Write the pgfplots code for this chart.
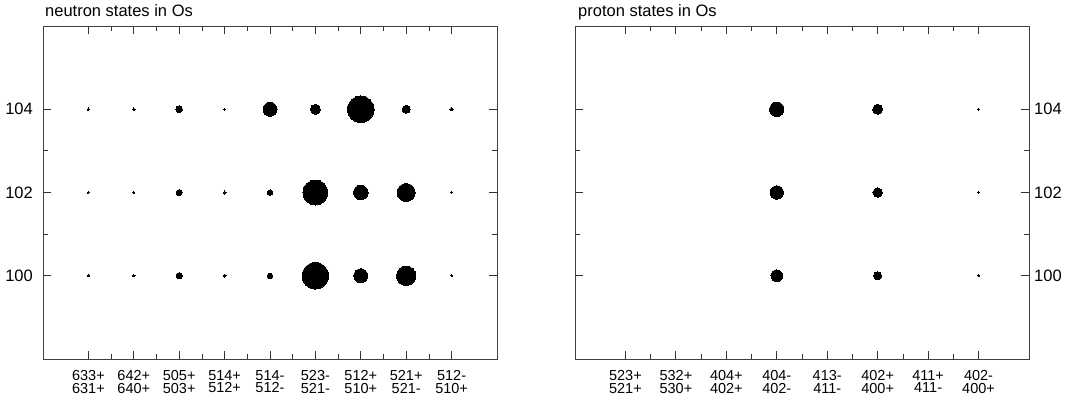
\documentclass[border=0pt]{standalone}
\usepackage{fontspec}
\setmainfont{Liberation Sans}
\usepackage{pgfplots}
\usepackage{pgfplotstable}
\pgfplotsset{compat=1.18}

% bubble radius r in pt (1pt = 1px of the 1067x408 picture)
\pgfplotstableread{
x y r
1 104 1.3
2 104 1.3
3 104 3.3
4 104 1.0
5 104 7.0
6 104 5.0
7 104 13.3
8 104 4.0
9 104 1.7
1 102 0.9
2 102 1.1
3 102 3.0
4 102 1.6
5 102 2.7
6 102 12.5
7 102 7.3
8 102 9.0
9 102 0.8
1 100 0.9
2 100 1.2
3 100 3.1
4 100 1.6
5 100 2.7
6 100 13.3
7 100 7.0
8 100 9.7
9 100 0.8
}\neutron

\pgfplotstableread{
x y r
4 104 7.2
6 104 5.0
8 104 0.9
4 102 6.7
6 102 4.7
8 102 0.8
4 100 5.8
6 100 4.0
8 100 0.8
}\proton

\pgfplotsset{
  osbox/.style={
    scale only axis, width=454pt, height=333pt,
    ymin=98, ymax=106, ytick={100,102,104}, minor y tick num=1,
    minor x tick num=1,
    tick align=inside, major tick length=8pt, minor tick length=5pt,
    axis line style={black!75, line width=1pt},
    tick style={black!80, line width=0.8pt},
    /pgf/number format/assume math mode=true,
    yticklabel style={font=\fontsize{16.5}{18}\selectfont, inner sep=0pt},
    xticklabel style={font=\fontsize{14.5}{12.7}\selectfont, align=center,
      inner sep=0pt, yshift=-11pt},
  },
  bubble/.style={scatter, only marks, mark=*,
    scatter/use mapped color={draw=black, fill=black},
    mark options={line width=0pt},
    visualization depends on={\thisrow{r}\as\rad},
    scatter/@pre marker code/.append style={/tikz/mark size=\rad}},
}

\begin{document}
\begin{tikzpicture}
\begin{axis}[osbox, at={(43pt,49pt)}, anchor=south west,
    xmin=0, xmax=10, xtick={1,...,9},
    xticklabels={{633+\\631+},{642+\\640+},{505+\\503+},{514+\\512+},{514-\\512-},
      {523-\\521-},{512+\\510+},{521+\\521-},{512-\\510+}},
    yticklabel style={xshift=-10pt}]
\addplot[bubble] table[x=x, y=y] {\neutron};
\end{axis}

\begin{axis}[osbox, at={(575pt,49pt)}, anchor=south west,
    xmin=0, xmax=9, xtick={1,...,8},
    xticklabels={{523+\\521+},{532+\\530+},{404+\\402+},{404-\\402-},{413-\\411-},
      {402+\\400+},{411+\\411-},{402-\\400+}},
    yticklabel pos=right, yticklabel style={xshift=5pt}]
\addplot[bubble] table[x=x, y=y] {\proton};
\end{axis}

\node[anchor=base west, inner sep=0pt, font=\fontsize{16.5}{18}\selectfont]
  at (45pt,391.5pt) {neutron states in Os};
\node[anchor=base west, inner sep=0pt, font=\fontsize{16.5}{18}\selectfont]
  at (578pt,391.5pt) {proton states in Os};

\pgfresetboundingbox
\useasboundingbox (0,0) rectangle (1067pt,408pt);
\end{tikzpicture}
\end{document}
